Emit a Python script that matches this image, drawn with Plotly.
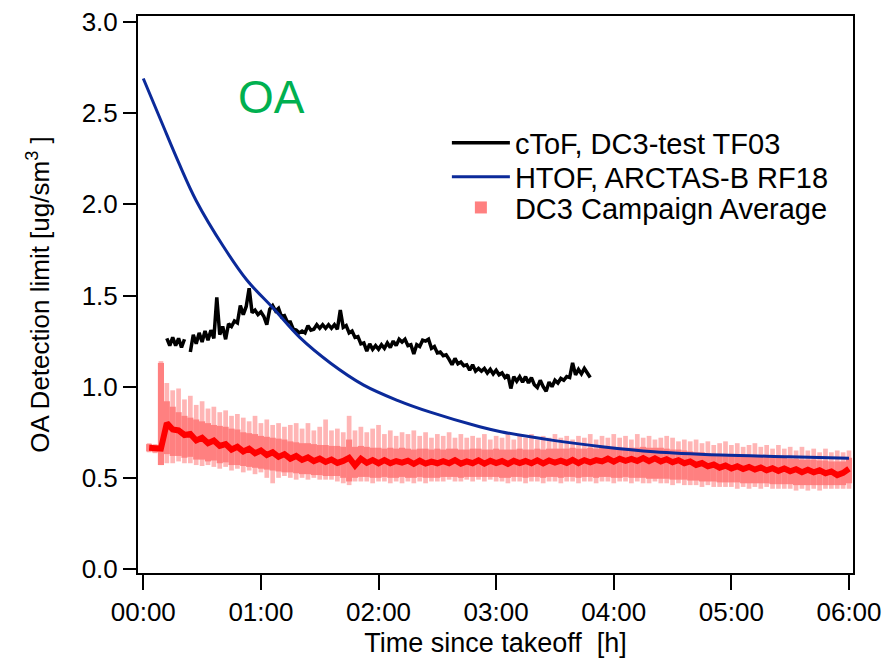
import numpy as np
import plotly.graph_objects as go

# ---- HTOF, ARCTAS-B RF18 detection limit (hours since takeoff, ug/sm3)
htof_t = [0.0, 0.156, 0.3, 0.45, 0.68, 0.88, 1.105, 1.33, 1.59, 1.87, 2.16, 2.44, 2.86,
          3.04, 3.5, 3.9, 4.34, 4.91, 5.49, 6.0]
htof_v = [2.69, 2.45, 2.23, 2.02, 1.77, 1.585, 1.43, 1.27, 1.13, 1.01, 0.925, 0.86, 0.78,
          0.753, 0.704, 0.671, 0.643, 0.625, 0.616, 0.608]

# ---- cToF, DC3-test TF03 (0.025 h sampling from 0.20 h to 3.80 h)
ctof_t = np.round(np.arange(0.20, 3.8001, 0.025), 3)
ctof_v = [1.265, 1.225, 1.27, 1.225, 1.265, 1.215, 1.26, None, 1.19, 1.285,
          1.235, 1.295, 1.245, 1.305, 1.255, 1.31, 1.265, 1.49, 1.285, 1.33,
          1.26, 1.345, 1.33, 1.36, 1.35, 1.445, 1.395, 1.44, 1.54, 1.405,
          1.42, 1.395, 1.41, 1.385, 1.34, 1.425, 1.445, 1.415, 1.43, 1.385,
          1.39, 1.355, 1.355, 1.315, 1.31, 1.295, 1.305, 1.295, 1.335, 1.31,
          1.315, 1.34, 1.32, 1.34, 1.32, 1.34, 1.32, 1.34, 1.315, 1.42,
          1.325, 1.335, 1.295, 1.305, 1.27, 1.275, 1.235, 1.24, 1.195, 1.235,
          1.205, 1.225, 1.205, 1.23, 1.21, 1.24, 1.215, 1.25, 1.225, 1.26,
          1.245, 1.26, 1.225, 1.23, 1.18, 1.23, 1.22, 1.255, 1.25, 1.26,
          1.21, 1.22, 1.185, 1.19, 1.17, 1.175, 1.15, 1.12, 1.155, 1.125,
          1.135, 1.115, 1.12, 1.09, 1.12, 1.085, 1.10, 1.085, 1.10, 1.075,
          1.095, 1.07, 1.09, 1.065, 1.075, 1.05, 1.065, 0.99, 1.055, 1.03,
          1.055, 1.025, 1.055, 1.02, 1.05, 1.01, 0.995, 1.035, 1.0, 0.975,
          1.025, 1.0, 1.035, 1.02, 1.045, 1.035, 1.055, 1.05, 1.13, 1.065,
          1.095, 1.07, 1.10, 1.075, 1.05]

# ---- DC3 campaign average (0.05 h bins from 0.05 h to 6.00 h)
dc3_t = np.round(np.arange(1, 121) * 0.05, 2)
dc3_mean = [0.665, 0.660, 0.660, 0.80, 0.765, 0.76, 0.735, 0.74, 0.705, 0.72,
            0.69, 0.705, 0.675, 0.685, 0.655, 0.67, 0.645, 0.66, 0.635, 0.65,
            0.625, 0.64, 0.615, 0.63, 0.605, 0.62, 0.598, 0.612, 0.592, 0.605,
            0.587, 0.60, 0.582, 0.593, 0.61, 0.568, 0.605, 0.582, 0.597, 0.58,
            0.597, 0.58, 0.592, 0.583, 0.594, 0.577, 0.594, 0.578, 0.589, 0.58,
            0.591, 0.58, 0.597, 0.578, 0.59, 0.58, 0.596, 0.578, 0.594, 0.581,
            0.592, 0.576, 0.593, 0.581, 0.592, 0.58, 0.596, 0.579, 0.595, 0.583,
            0.594, 0.582, 0.598, 0.581, 0.597, 0.585, 0.597, 0.59, 0.605, 0.589,
            0.605, 0.593, 0.604, 0.592, 0.608, 0.591, 0.607, 0.59, 0.602, 0.586,
            0.597, 0.58, 0.59, 0.571, 0.581, 0.563, 0.573, 0.556, 0.567, 0.551,
            0.563, 0.548, 0.56, 0.545, 0.557, 0.541, 0.553, 0.538, 0.551, 0.536,
            0.547, 0.531, 0.544, 0.53, 0.541, 0.525, 0.535, 0.515, 0.527, 0.55]
dc3_lo = [0.645, 0.64, 0.57, 0.63, 0.62, 0.62, 0.61, 0.615, 0.60, 0.60,
          0.59, 0.595, 0.58, 0.585, 0.57, 0.57, 0.565, 0.56, 0.555, 0.55,
          0.545, 0.54, 0.535, 0.53, 0.53, 0.525, 0.52, 0.52, 0.515, 0.515,
          0.51, 0.51, 0.51, 0.50, 0.48, 0.50, 0.505, 0.505, 0.50, 0.50,
          0.505, 0.50, 0.50, 0.505, 0.50, 0.50, 0.505, 0.50, 0.50, 0.50,
          0.505, 0.505, 0.505, 0.50, 0.505, 0.505, 0.505, 0.505, 0.505, 0.505,
          0.50, 0.50, 0.505, 0.505, 0.50, 0.505, 0.505, 0.50, 0.505, 0.505,
          0.50, 0.505, 0.505, 0.50, 0.505, 0.505, 0.50, 0.505, 0.505, 0.50,
          0.50, 0.505, 0.50, 0.50, 0.50, 0.495, 0.495, 0.495, 0.495, 0.49,
          0.49, 0.49, 0.485, 0.485, 0.48, 0.48, 0.48, 0.475, 0.475, 0.475,
          0.475, 0.47, 0.47, 0.47, 0.47, 0.47, 0.465, 0.465, 0.465, 0.465,
          0.46, 0.46, 0.46, 0.46, 0.46, 0.46, 0.46, 0.46, 0.46, 0.47]
dc3_hi = [0.685, 0.68, 1.13, 0.92, 0.89, 0.86, 0.84, 0.83, 0.82, 0.81,
          0.80, 0.79, 0.785, 0.78, 0.77, 0.765, 0.75, 0.745, 0.74, 0.73,
          0.725, 0.72, 0.715, 0.71, 0.70, 0.695, 0.69, 0.69, 0.685, 0.68,
          0.68, 0.675, 0.675, 0.67, 0.71, 0.67, 0.675, 0.67, 0.665, 0.665,
          0.66, 0.665, 0.66, 0.665, 0.66, 0.655, 0.66, 0.66, 0.655, 0.66,
          0.655, 0.66, 0.66, 0.655, 0.655, 0.66, 0.66, 0.655, 0.655, 0.66,
          0.655, 0.655, 0.655, 0.66, 0.655, 0.655, 0.66, 0.655, 0.66, 0.66,
          0.66, 0.66, 0.665, 0.66, 0.66, 0.665, 0.66, 0.665, 0.665, 0.665,
          0.665, 0.665, 0.665, 0.665, 0.67, 0.665, 0.665, 0.665, 0.66, 0.655,
          0.655, 0.65, 0.645, 0.64, 0.64, 0.635, 0.63, 0.63, 0.625, 0.625,
          0.62, 0.62, 0.62, 0.615, 0.615, 0.615, 0.61, 0.61, 0.61, 0.605,
          0.605, 0.60, 0.60, 0.60, 0.595, 0.595, 0.59, 0.59, 0.59, 0.61]
dc3_min = [0.64, 0.635, 0.57, 0.58, 0.58, 0.59, 0.58, 0.58, 0.57, 0.565,
           0.57, 0.56, 0.55, 0.56, 0.54, 0.55, 0.53, 0.54, 0.52, 0.53,
           0.50, 0.47, 0.50, 0.51, 0.50, 0.49, 0.50, 0.49, 0.50, 0.49,
           0.49, 0.49, 0.48, 0.47, 0.46, 0.48, 0.48, 0.48, 0.47, 0.48,
           0.48, 0.47, 0.48, 0.47, 0.48, 0.47, 0.48, 0.47, 0.48, 0.48,
           0.48, 0.49, 0.48, 0.48, 0.49, 0.48, 0.49, 0.48, 0.49, 0.48,
           0.48, 0.47, 0.48, 0.48, 0.47, 0.48, 0.48, 0.47, 0.48, 0.48,
           0.47, 0.48, 0.48, 0.47, 0.48, 0.48, 0.47, 0.48, 0.48, 0.47,
           0.48, 0.48, 0.47, 0.48, 0.47, 0.47, 0.48, 0.47, 0.47, 0.46,
           0.47, 0.46, 0.46, 0.46, 0.45, 0.46, 0.45, 0.45, 0.45, 0.45,
           0.44, 0.45, 0.44, 0.45, 0.44, 0.45, 0.44, 0.44, 0.44, 0.44,
           0.43, 0.44, 0.43, 0.44, 0.43, 0.44, 0.44, 0.44, 0.44, 0.44]
dc3_max = [0.69, 0.685, 1.14, 1.02, 0.98, 0.99, 0.93, 0.95, 0.90, 0.92,
           0.88, 0.89, 0.86, 0.87, 0.84, 0.85, 0.83, 0.81, 0.84, 0.80,
           0.82, 0.79, 0.80, 0.78, 0.79, 0.80, 0.77, 0.80, 0.76, 0.78,
           0.82, 0.76, 0.77, 0.75, 0.84, 0.76, 0.78, 0.75, 0.77, 0.79,
           0.74, 0.76, 0.73, 0.75, 0.74, 0.76, 0.73, 0.75, 0.72, 0.74,
           0.73, 0.75, 0.72, 0.74, 0.72, 0.73, 0.72, 0.74, 0.71, 0.73,
           0.72, 0.74, 0.71, 0.73, 0.72, 0.74, 0.71, 0.73, 0.72, 0.74,
           0.72, 0.73, 0.71, 0.73, 0.72, 0.74, 0.71, 0.73, 0.72, 0.74,
           0.72, 0.73, 0.71, 0.74, 0.72, 0.73, 0.71, 0.72, 0.73, 0.72,
           0.70, 0.71, 0.70, 0.71, 0.69, 0.70, 0.68, 0.69, 0.70, 0.68,
           0.69, 0.67, 0.68, 0.69, 0.67, 0.68, 0.66, 0.68, 0.66, 0.67,
           0.65, 0.67, 0.65, 0.66, 0.64, 0.66, 0.64, 0.65, 0.64, 0.65]

hour_ticks = [0, 1, 2, 3, 4, 5, 6]
hour_labels = ["00:00", "01:00", "02:00", "03:00", "04:00", "05:00", "06:00"]
y_ticks = [0.0, 0.5, 1.0, 1.5, 2.0, 2.5, 3.0]

FONT = "Arial, Liberation Sans, sans-serif"

fig = go.Figure()

# individual-flight spread (thin light bars)
fig.add_trace(go.Bar(
    x=dc3_t, base=dc3_min, y=np.array(dc3_max) - np.array(dc3_min),
    width=0.04, marker=dict(color="#FFB5B5", line=dict(width=0)),
    showlegend=False, hoverinfo="skip"))

# campaign-average band
fig.add_trace(go.Bar(
    x=dc3_t, base=dc3_lo, y=np.array(dc3_hi) - np.array(dc3_lo),
    width=0.052, marker=dict(color="#FF8080", line=dict(width=0)),
    name="DC3 Campaign Average", legend="legend3"))

# campaign-average centre
fig.add_trace(go.Scatter(
    x=dc3_t, y=dc3_mean, mode="lines",
    line=dict(color="#FF0000", width=6), showlegend=False))

fig.add_trace(go.Scatter(
    x=ctof_t, y=ctof_v, mode="lines", connectgaps=False,
    line=dict(color="black", width=3.5),
    name="cToF, DC3-test TF03", legend="legend"))

fig.add_trace(go.Scatter(
    x=htof_t, y=htof_v, mode="lines", line_shape="spline",
    line=dict(color="#0B2A9A", width=3),
    name="HTOF, ARCTAS-B RF18", legend="legend2"))

fig.add_annotation(x=1.094, y=2.59, xref="x", yref="y", text="OA",
                   showarrow=False, font=dict(size=46, color="#00B050", family=FONT))

legend_style = dict(x=0.432, xanchor="left", yanchor="middle",
                    bgcolor="rgba(0,0,0,0)", font=dict(size=29), itemwidth=58)

fig.update_layout(
    width=886, height=660,
    margin=dict(l=138, r=33, t=16, b=87),
    paper_bgcolor="white", plot_bgcolor="white",
    barmode="overlay",
    font=dict(family=FONT, size=26, color="black"),
    legend=dict(y=0.772, **legend_style),
    legend2=dict(y=0.711, **legend_style),
    legend3=dict(y=0.656, **legend_style),
    xaxis=dict(range=[-0.045, 6.034], tickvals=hour_ticks, ticktext=hour_labels,
               automargin=False,
               showline=True, mirror=True, linecolor="black", linewidth=2,
               ticks="outside", ticklen=15, tickwidth=2, tickcolor="black",
               showgrid=False, zeroline=False,
               title=dict(text="Time since takeoff\u00a0 [h]", standoff=7,
                          font=dict(size=27))),
    yaxis=dict(range=[-0.022, 3.033], tickvals=y_ticks, tickformat=".1f",
               automargin=False,
               showline=True, mirror=True, linecolor="black", linewidth=2,
               ticks="outside", ticklen=13, tickwidth=2, tickcolor="black",
               showgrid=False, zeroline=False,
               title=dict(text="OA Detection limit [ug/sm<sup>3</sup> ]", standoff=25,
                          font=dict(size=26))),
)

fig.write_html("out.html")
